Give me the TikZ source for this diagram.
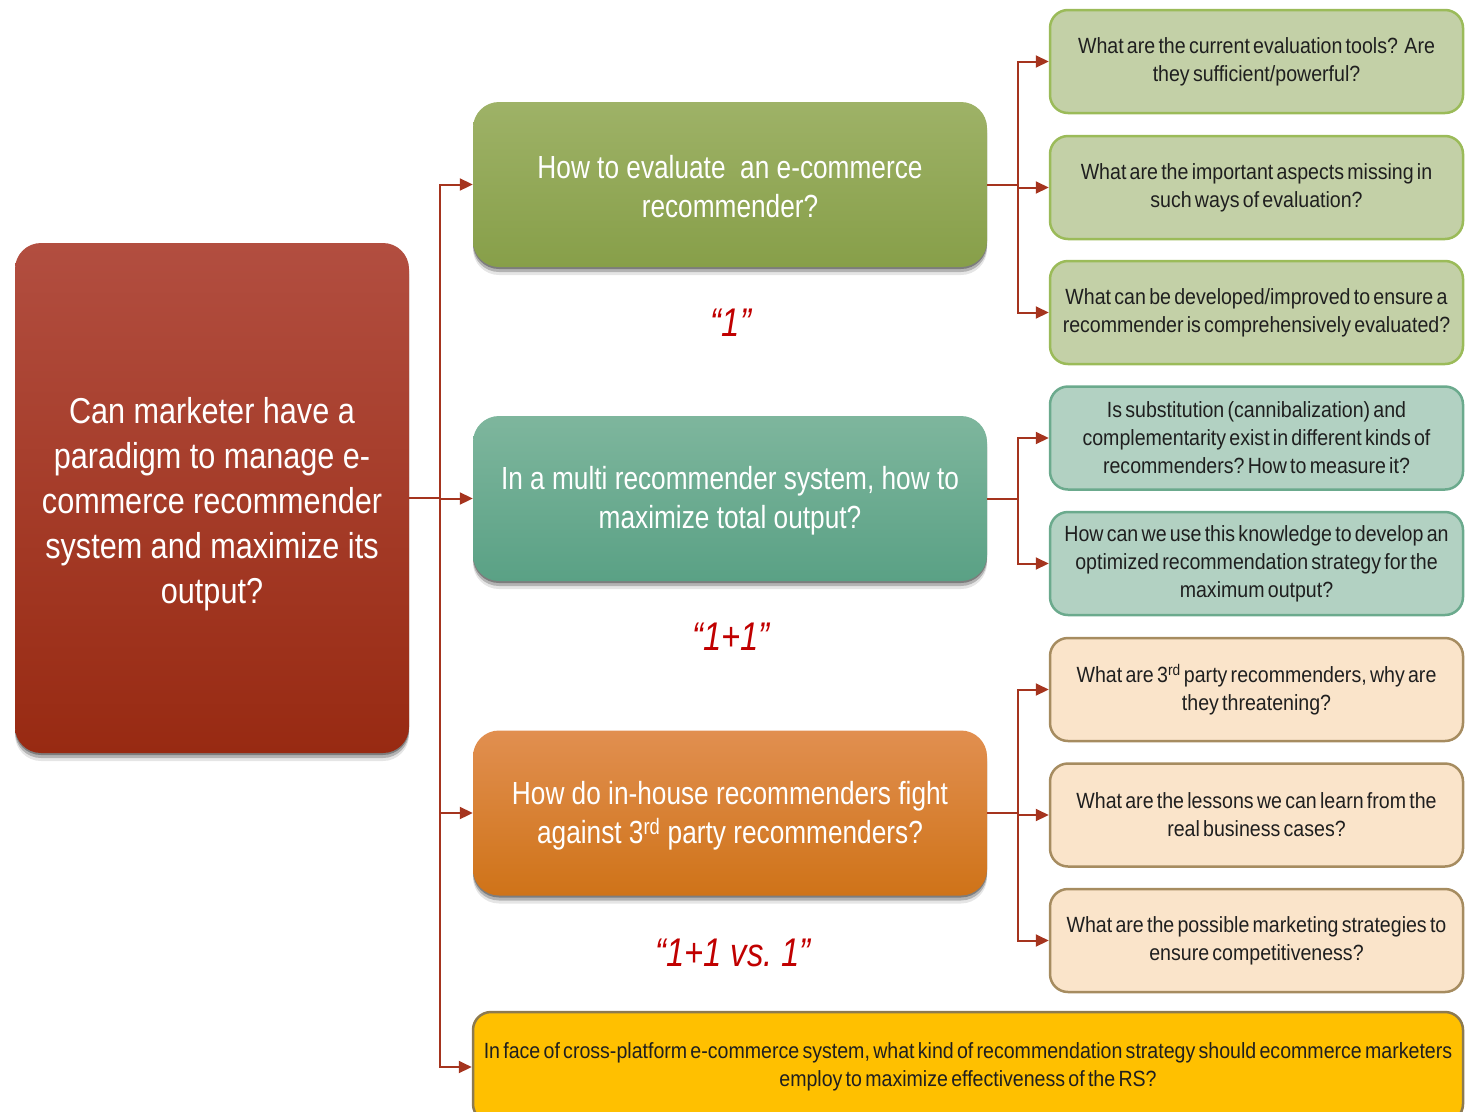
\documentclass[tikz,border=0pt]{standalone}
\usepackage{fontspec}
\setmainfont{Liberation Sans}
\newfontfamily\narrowsans[FakeStretch=0.82]{Liberation Sans}
\newfontfamily\rootsans[FakeStretch=0.85]{Liberation Sans}
\newfontfamily\smallsans[FakeStretch=0.89,WordSpace=0.6]{Liberation Sans}
\usetikzlibrary{arrows.meta,shadows,calc}

\definecolor{rootTop}{RGB}{178,78,64}
\definecolor{rootBot}{RGB}{152,42,18}
\definecolor{evalTop}{RGB}{158,178,103}
\definecolor{evalBot}{RGB}{135,159,73}
\definecolor{multiTop}{RGB}{126,182,157}
\definecolor{multiBot}{RGB}{90,161,133}
\definecolor{houseTop}{RGB}{225,143,80}
\definecolor{houseBot}{RGB}{207,115,24}
\definecolor{evalFill}{RGB}{195,208,167}
\definecolor{evalLine}{RGB}{155,187,89}
\definecolor{multiFill}{RGB}{178,209,194}
\definecolor{multiLine}{RGB}{107,170,141}
\definecolor{houseFill}{RGB}{250,228,202}
\definecolor{houseLine}{RGB}{166,140,96}
\definecolor{crossFill}{RGB}{255,192,0}
\definecolor{crossLine}{RGB}{140,122,80}
\definecolor{wire}{RGB}{165,52,30}
\definecolor{tagred}{RGB}{192,0,0}

\begin{document}
\frenchspacing
\begin{tikzpicture}[
  x=1pt, y=-1pt,
  softshadow/.style={
    drop shadow={shadow xshift=0pt, shadow yshift=-2pt, opacity=0.30, fill=black},
    drop shadow={shadow xshift=0pt, shadow yshift=-5pt, opacity=0.22, fill=black},
    drop shadow={shadow xshift=0pt, shadow yshift=-8pt, opacity=0.10, fill=black}},
  bigbox/.style={rounded corners=26pt, text=white, align=center, inner sep=0pt,
    minimum width=514pt, minimum height=165pt, softshadow,
    font=\narrowsans\fontsize{32}{39}\selectfont},
  qbox/.style={rounded corners=18pt, line width=2.5pt, align=center, inner sep=0pt,
    minimum width=413pt, minimum height=103pt, text=black!88,
    font=\smallsans\fontsize{22}{28}\selectfont},
  evalq/.style={qbox, draw=evalLine, fill=evalFill},
  multiq/.style={qbox, draw=multiLine, fill=multiFill},
  houseq/.style={qbox, draw=houseLine, fill=houseFill},
  tag/.style={text=tagred, font=\narrowsans\itshape\fontsize{40}{46}\selectfont},
  wire/.style={draw=wire, line width=2pt},
  feed/.style={wire, -{Triangle[length=13pt,width=12pt]}}
]
\useasboundingbox (0,0) rectangle (1471,1111);
\clip (0,0) rectangle (1471,1111);

% root question
\node[softshadow, rounded corners=26pt, top color=rootTop, bottom color=rootBot,
      minimum width=394pt, minimum height=510pt, inner sep=0pt, text=white, align=center,
      font=\rootsans\fontsize{36}{45}\selectfont]
  (root) at (212,498) {\rule{0pt}{38pt}Can marketer have a\\paradigm to manage e-\\commerce recommender\\system and maximize its\\output?};

% three research streams
\node[bigbox, top color=evalTop, bottom color=evalBot] (m1) at (730,184.5)
  {\rule{0pt}{28pt}How to evaluate~ an e-commerce\\recommender?};
\node[bigbox, top color=multiTop, bottom color=multiBot] (m2) at (730,498.5)
  {\rule{0pt}{28pt}In a multi recommender system, how to\\maximize total output?};
\node[bigbox, top color=houseTop, bottom color=houseBot] (m3) at (730,813)
  {\rule{0pt}{28pt}How do in-house recommenders fight\\against 3\textsuperscript{rd} party recommenders?};

% stream labels
\node[tag] (t1) at (731,323) {“1”};
\node[tag] (t2) at (731,637) {“1+1”};
\node[tag] (t3) at (733,953) {“1+1 vs. 1”};

% detailed questions
\node[evalq] (g1) at (1256.5,61.5) {What are the current evaluation tools?~ Are\\they sufficient/powerful?};
\node[evalq] (g2) at (1256.5,187.5) {What are the important aspects missing in\\such ways of evaluation?};
\node[evalq] (g3) at (1256.5,312.5) {What can be developed/improved to ensure a\\recommender is comprehensively evaluated?};
\node[multiq] (s1) at (1256.5,438) {Is substitution (cannibalization) and\\complementarity exist in different kinds of\\recommenders? How to measure it?};
\node[multiq] (s2) at (1256.5,563.5) {How can we use this knowledge to develop an\\optimized recommendation strategy for the\\maximum output?};
\node[houseq] (h1) at (1256.5,689.5) {What are 3\textsuperscript{rd} party recommenders, why are\\they threatening?};
\node[houseq] (h2) at (1256.5,815) {What are the lessons we can learn from the\\real business cases?};
\node[houseq] (h3) at (1256.5,940.5) {What are the possible marketing strategies to\\ensure competitiveness?};

% cross-platform question
\node[qbox, draw=crossLine, fill=crossFill, minimum width=990pt, minimum height=110pt]
  (cross) at (968,1067) {In face of cross-platform e-commerce system, what kind of recommendation strategy should ecommerce marketers\\employ to maximize effectiveness of the RS?};

% connectors from the root
\coordinate (trunk) at ($(root.east)+(31,0)$);
\draw[wire] (root.east) -- (trunk);
\draw[feed] (trunk) |- (m1.west);
\draw[feed] (trunk) |- (m2.west);
\draw[feed] (trunk) |- (m3.west);
\draw[feed] (trunk) |- (cross.west);

% connectors from each stream
\coordinate (b1) at ($(m1.east)+(31,0)$);
\coordinate (b2) at ($(m2.east)+(31,0)$);
\coordinate (b3) at ($(m3.east)+(31,0)$);
\draw[wire] (m1.east) -- (b1);
\draw[wire] (m2.east) -- (b2);
\draw[wire] (m3.east) -- (b3);
\foreach \q in {g1,g2,g3} \draw[feed] (b1) |- (\q.west);
\foreach \q in {s1,s2} \draw[feed] (b2) |- (\q.west);
\foreach \q in {h1,h2,h3} \draw[feed] (b3) |- (\q.west);
\end{tikzpicture}
\end{document}
